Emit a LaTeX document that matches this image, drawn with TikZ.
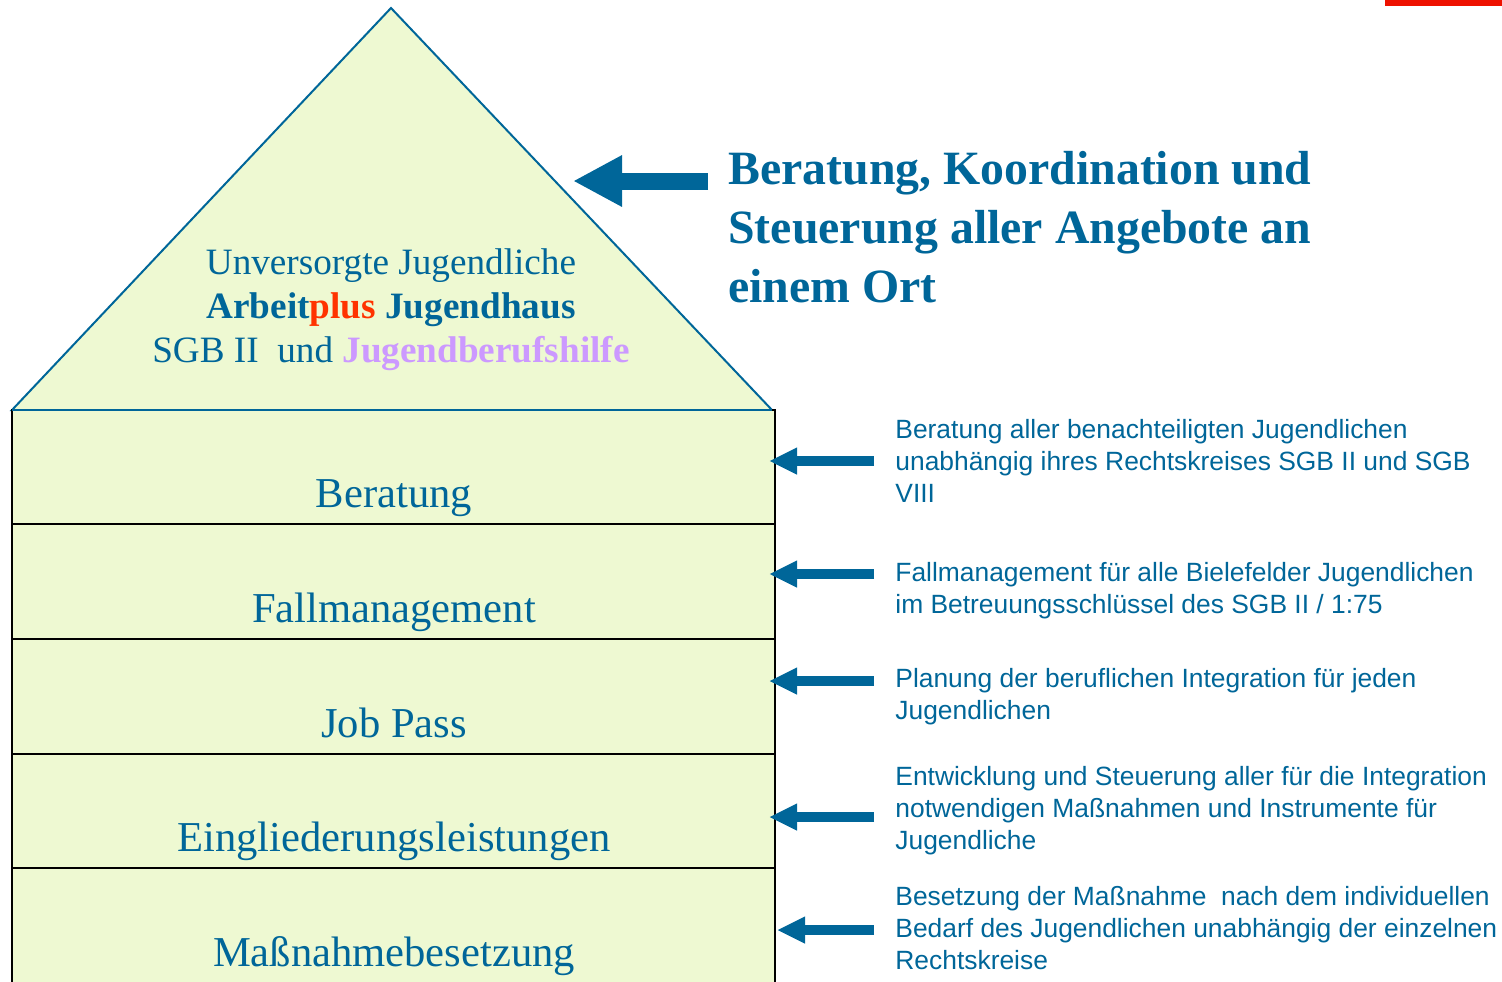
\documentclass[tikz,border=0pt]{standalone}
\usepackage{fontspec}
\setmainfont{Liberation Serif}
\newfontfamily\arialfont{Liberation Sans}
\usetikzlibrary{arrows.meta}
\definecolor{dblue}{RGB}{0,102,153}
\definecolor{hfill}{RGB}{238,249,210}
\definecolor{pluscol}{RGB}{255,51,0}
\definecolor{lilac}{RGB}{204,153,255}
\definecolor{barred}{RGB}{238,17,0}
\tikzset{
  rowlabel/.style={anchor=base, inner sep=0pt, text=dblue, font=\fontsize{21.3}{25}\selectfont},
  roofline/.style={anchor=base, inner sep=0pt, text=dblue, font=\fontsize{18.6}{22}\selectfont},
  sidetext/.style={anchor=base west, inner sep=0pt, text=dblue, align=left, font=\arialfont\fontsize{13.2}{16}\selectfont},
  headtext/.style={anchor=base west, inner sep=0pt, text=dblue, align=left, font=\bfseries\fontsize{23.9}{29.5}\selectfont},
  smallarrow/.style={draw=dblue, line width=5pt, -{Triangle[length=14pt,width=12.5pt]}},
  bigarrow/.style={draw=dblue, line width=8.5pt, -{Triangle[length=24.5pt,width=24pt]}},
  rowbox/.style={draw=black, line width=1pt, fill=hfill}
}
\begin{document}
\begin{tikzpicture}[x=0.5pt,y=-0.5pt]
\useasboundingbox (0,0) rectangle (1502,981);
\clip (0,0) rectangle (1502,981);
% red bar
\fill[barred] (1385,0) rectangle (1502,6);
% roof
\draw[draw=dblue, line width=1pt, fill=hfill] (12,410) -- (391,8) -- (772,410) -- cycle;
% rows
\draw[rowbox] (12,410) rectangle (775,524);
\draw[rowbox] (12,524) rectangle (775,639);
\draw[rowbox] (12,639) rectangle (775,754);
\draw[rowbox] (12,754) rectangle (775,868);
\draw[rowbox] (12,868) rectangle (775,1000);
\draw[draw=dblue, line width=1pt] (12,410) -- (772,410);
% roof text
\node[roofline] (u1) at (391,274) {Unversorgte Jugendliche};
\node[roofline] (u2) at (391,318) {\bfseries Arbeit\textcolor{pluscol}{plus} Jugendhaus};
\node[roofline] (u3) at (391,362) {SGB II\ \ und \textcolor{lilac}{\bfseries Jugendberufshilfe}};
% row labels
\node[rowlabel] (l1) at (394,507) {Beratung};
\node[rowlabel] (l2) at (394,622) {Fallmanagement};
\node[rowlabel] (l3) at (394,737) {Job Pass};
\node[rowlabel] (l4) at (394,851) {Eingliederungsleistungen};
\node[rowlabel] (l5) at (394,966) {Maßnahmebesetzung};
% heading (anchor at last line baseline)
\node[headtext] (head) at (728,302) {Beratung, Koordination und\\Steuerung aller Angebote an\\einem Ort};
\coordinate (hs) at (708,181);
\coordinate (ht) at (573,181);
\draw[bigarrow] (hs) -- (ht);
% side texts (anchor at last line baseline)
\node[sidetext] (s1) at (895,502) {Beratung aller benachteiligten Jugendlichen\\unabhängig ihres Rechtskreises SGB II und SGB\\VIII};
\node[sidetext] (s2) at (895,613) {Fallmanagement für alle Bielefelder Jugendlichen\\im Betreuungsschlüssel des SGB II / 1:75};
\node[sidetext] (s3) at (895,719) {Planung der beruflichen Integration für jeden\\Jugendlichen};
\node[sidetext] (s4) at (895,849) {Entwicklung und Steuerung aller für die Integration\\notwendigen Maßnahmen und Instrumente für\\Jugendliche};
\node[sidetext] (s5) at (895,969) {Besetzung der Maßnahme\ \ nach dem individuellen\\Bedarf des Jugendlichen unabhängig der einzelnen\\Rechtskreise};
% arrows
\coordinate (a1s) at (874,461); \coordinate (a1t) at (769,461);
\coordinate (a2s) at (874,574); \coordinate (a2t) at (769,574);
\coordinate (a3s) at (874,681); \coordinate (a3t) at (769,681);
\coordinate (a4s) at (874,817); \coordinate (a4t) at (769,817);
\coordinate (a5s) at (874,930); \coordinate (a5t) at (777,930);
\draw[smallarrow] (a1s) -- (a1t);
\draw[smallarrow] (a2s) -- (a2t);
\draw[smallarrow] (a3s) -- (a3t);
\draw[smallarrow] (a4s) -- (a4t);
\draw[smallarrow] (a5s) -- (a5t);
\end{tikzpicture}
\end{document}
